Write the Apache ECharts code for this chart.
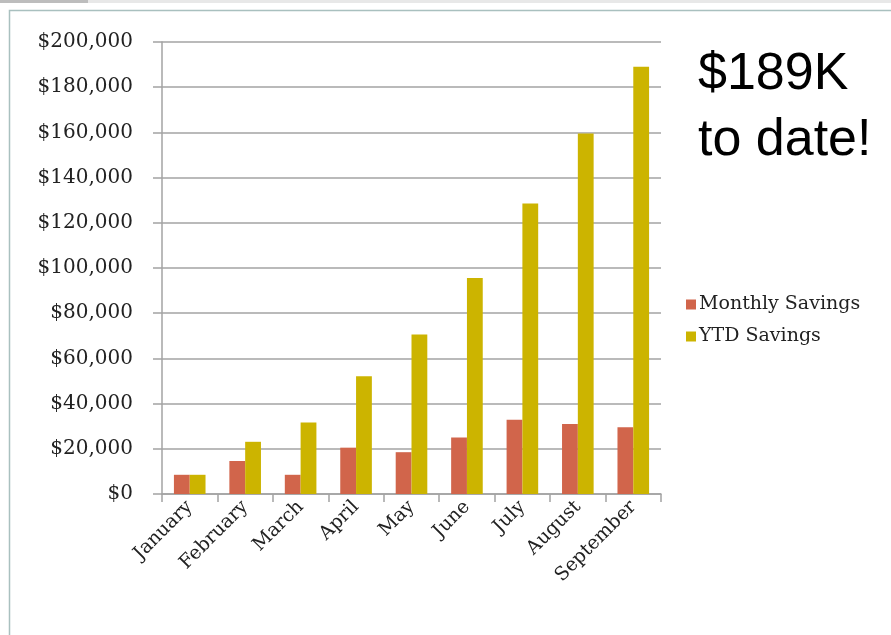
<!DOCTYPE html>
<html>
<head>
<meta charset="utf-8">
<title>Savings</title>
<script src="https://cdn.jsdelivr.net/npm/echarts@6/dist/echarts.min.js"></script>
<style>
  html, body { margin: 0; padding: 0; background: #fff; }
  #main { width: 891px; height: 635px; }
</style>
</head>
<body>
<div id="main"></div>
<script>
var months = ['January', 'February', 'March', 'April', 'May', 'June', 'July', 'August', 'September'];
var monthly = [8500, 14600, 8500, 20500, 18500, 25000, 32900, 31000, 29500];
var ytd = [8500, 23100, 31600, 52100, 70600, 95600, 128500, 159500, 189000];
var yTicks = [0, 20000, 40000, 60000, 80000, 100000, 120000, 140000, 160000, 180000, 200000];

var serif = '"DejaVu Serif", serif';
var gridColor = '#a3a3a3';

var myChart = echarts.init(document.getElementById('main'));

var option = {
  animation: false,
  backgroundColor: '#fff',
  textStyle: { fontFamily: serif },
  grid: { left: 162, right: 230, top: 42, bottom: 141 },
  legend: {
    orient: 'vertical',
    left: 681,
    top: 290,
    itemWidth: 10,
    itemHeight: 10,
    itemGap: 13,
    icon: 'rect',
    textStyle: { fontFamily: serif, fontSize: 19, color: '#222', padding: [0, 0, 0, -2] },
    data: ['Monthly Savings', 'YTD Savings']
  },
  xAxis: {
    type: 'category',
    data: months,
    axisLine: { lineStyle: { color: gridColor, width: 1.5 } },
    axisTick: { show: true, length: 8, lineStyle: { color: gridColor, width: 1.5 } },
    axisLabel: {
      rotate: 45,
      interval: 0,
      margin: 10,
      fontFamily: serif,
      fontSize: 19,
      color: '#222'
    }
  },
  yAxis: {
    type: 'value',
    min: yTicks[0],
    max: yTicks[yTicks.length - 1],
    interval: 20000,
    axisLine: { show: true, lineStyle: { color: gridColor, width: 1.5 } },
    axisTick: { show: true, length: 9, lineStyle: { color: gridColor, width: 1.5 } },
    splitLine: { lineStyle: { color: gridColor, width: 1.5 } },
    axisLabel: {
      margin: 29,
      fontFamily: serif,
      fontSize: 20,
      color: '#222',
      formatter: function (v) { return '$' + v.toLocaleString('en-US'); }
    }
  },
  series: [
    {
      name: 'Monthly Savings',
      type: 'bar',
      data: monthly,
      barCategoryGap: '43%',
      barGap: '0%',
      itemStyle: { color: '#d1654b' }
    },
    {
      name: 'YTD Savings',
      type: 'bar',
      data: ytd,
      barCategoryGap: '43%',
      barGap: '0%',
      itemStyle: { color: '#ccb400' }
    }
  ],
  graphic: [
    { type: 'rect', left: 0, top: 0, shape: { width: 891, height: 3 }, style: { fill: '#e8e8e8' }, silent: true },
    { type: 'rect', left: 0, top: 0, shape: { width: 88, height: 3 }, style: { fill: '#bdbdbd' }, silent: true },
    { type: 'rect', left: 7, top: 8, shape: { width: 900, height: 626 }, style: { fill: 'none', stroke: '#a9c0bf', lineWidth: 1.5 }, silent: true, z: -1 },
    {
      type: 'text', left: 698, top: 42,
      style: { text: '$189K\nto date!', font: '52px "Liberation Sans", Arial, sans-serif', fill: '#000', lineHeight: 66 }
    }
  ]
};

myChart.setOption(option);
</script>
</body>
</html>
